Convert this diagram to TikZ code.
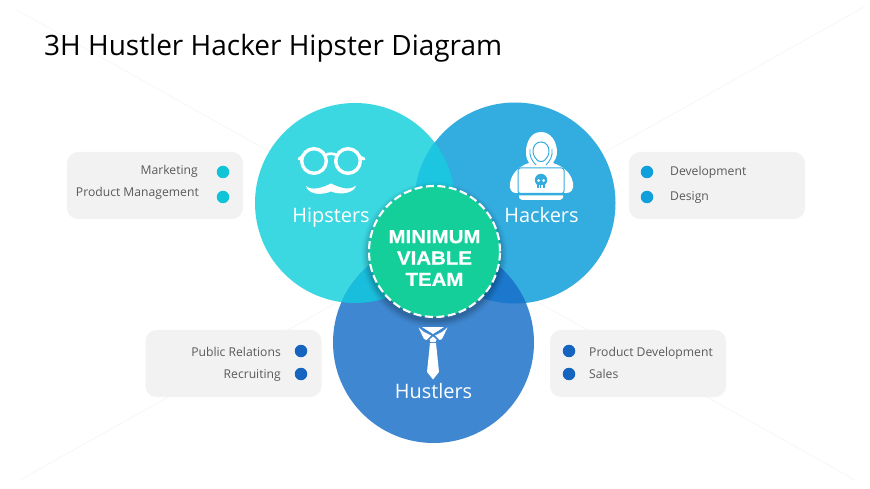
\documentclass[tikz,border=0pt]{standalone}
\usepackage{fontspec}
\setmainfont{Open Sans}
\newfontfamily\labelfont[FakeStretch=1.08,FakeBold=0.6]{Liberation Sans}
\definecolor{cyanc}{HTML}{3BD8E2}
\definecolor{bluec}{HTML}{33ACE0}
\definecolor{navyc}{HTML}{3F87D0}
\definecolor{ovA}{HTML}{1CC6E0}
\definecolor{ovB}{HTML}{1ABEDD}
\definecolor{ovC}{HTML}{1B78CC}
\definecolor{greenc}{HTML}{14CF9A}
\definecolor{cardc}{HTML}{F2F2F2}
\definecolor{txtc}{HTML}{595959}
\definecolor{dotA}{HTML}{10C4D8}
\definecolor{dotB}{HTML}{0FA0DC}
\definecolor{dotC}{HTML}{1565C0}
\tikzset{
 x=1bp,y=-1bp,
 card/.style={fill=cardc,draw=none,rounded corners=11bp,minimum width=176bp,minimum height=67bp,inner sep=0},
 ringlabel/.style={text=white,font=\fontsize{20}{24}\selectfont,inner sep=0,anchor=base},
 itemR/.style={text=txtc,font=\fontsize{12.2}{14}\selectfont,anchor=base east,inner sep=0},
 itemL/.style={text=txtc,font=\fontsize{12.2}{14}\selectfont,anchor=base west,inner sep=0},
 bullet/.style={circle,minimum size=12.5bp,inner sep=0,draw=none},
 big/.style={circle,minimum size=#1,inner sep=0,draw=none},
 icon/.style={fill=white,draw=none},
}
\begin{document}
\begin{tikzpicture}
\useasboundingbox[fill=white] (0,0) rectangle (870,489);
% faint background lines
\draw[black!3,line width=.8bp] (17,10)--(855,480) (864,7)--(20,480);
% title
\node[anchor=base west,inner sep=0,text=black,font=\fontsize{28.1}{32}\selectfont] (title) at (44,56) {3H Hustler Hacker Hipster Diagram};
% cards
\node[card] (c1) at (155,185.5) {};
\node[card] (c2) at (233.5,363.5) {};
\node[card] (c3) at (717,185.5) {};
\node[card] (c4) at (638,363.5) {};
% circles
\node[big=200bp,fill=cyanc] (hip) at (355,203) {};
\node[big=201bp,fill=bluec] (hac) at (515,203) {};
\node[big=201bp,fill=navyc] (hus) at (433.5,342.5) {};
\begin{scope}
\clip (355,203) circle[radius=100];
\fill[ovA] (515,203) circle[radius=100.5];
\fill[ovB] (433.5,342.5) circle[radius=100.5];
\end{scope}
\begin{scope}
\clip (515,203) circle[radius=100.5];
\fill[ovC] (433.5,342.5) circle[radius=100.5];
\end{scope}
% shadow of centre
\foreach \r/\o in {73/.025,71.5/.035,70/.05,68.5/.06,67/.07}
  \fill[black,opacity=\o] (434.5,255) circle[radius=\r];
% centre
\node[big=131bp,fill=greenc,draw=white,line width=2.1bp,dash pattern=on 8bp off 3.5bp] (mvt) at (434.5,251.5) {};
\node[align=center,text=white,inner sep=0,font=\labelfont\bfseries\fontsize{19}{21.5}\selectfont] (mvtl) at (434.5,258) {MINIMUM\\VIABLE\\TEAM};
% ring labels
\node[ringlabel] (l1) at (331,223) {Hipsters};
\node[ringlabel] (l2) at (541.5,223) {Hackers};
\node[ringlabel] (l3) at (433.5,398) {Hustlers};
% glasses
\draw[white,line width=3.4bp] (314,161) circle[radius=12.3] (348,161) circle[radius=12.3];
\draw[white,line width=2.6bp] (325,155.5) .. controls (328,153) and (334,153) .. (337,155.5);
\draw[white,line width=3bp,line cap=round] (302,157)--(299,159) (360,157)--(364,159);
% mustache
\fill[icon] (306,186) .. controls (312,191) and (322,188) .. (331,183.5)
 .. controls (340,188) and (350,191) .. (356,185.5)
 .. controls (355,192) and (342,196) .. (331,191.5)
 .. controls (320,196) and (308,194) .. (306,186) -- cycle;
% hacker
\fill[icon] (541,132) .. controls (531,132) and (526,142) .. (526,152)
 .. controls (526,157) and (527,160) .. (529,163)
 .. controls (520,166) and (512,172) .. (510,183)
 .. controls (509,190) and (512,193) .. (516,193) -- (566,193)
 .. controls (571,193) and (574,190) .. (573,183)
 .. controls (571,172) and (562,166) .. (553,163)
 .. controls (555,160) and (557,157) .. (557,152)
 .. controls (557,142) and (551,132) .. (541,132) -- cycle;
\draw[bluec,line width=1bp] (541,142) .. controls (536,142) and (533,146) .. (533,151)
 .. controls (533,155) and (535,158) .. (537,160) .. controls (539,162) and (543,162) .. (545,160)
 .. controls (547,158) and (549,155) .. (549,151)
 .. controls (549,146) and (546,142) .. (541,142) -- cycle;
\draw[bluec,line width=.9bp] (530,149) .. controls (529,156) and (532,161) .. (536,165)
 (552,149) .. controls (553,156) and (550,161) .. (546,165);
\draw[bluec,line width=1bp,rounded corners=2.5bp] (518,168) rectangle (564,193.5);
\fill[bluec] (515,193.5) rectangle (567,195);
\fill[icon] (519,195.5) -- (563,195.5) -- (563,198) -- (560,200) -- (522,200) -- (519,198) -- cycle;
\fill[bluec] (541,180) circle[radius=6.2];
\fill[bluec] (537,182) rectangle (545,188.5);
\fill[white] (538.5,180.5) circle[radius=1.5] (543.5,180.5) circle[radius=1.5];
\draw[white,line width=.5bp] (539.3,185.5)--(539.3,188.5) (541,185.5)--(541,188.5) (542.7,185.5)--(542.7,188.5);
% tie
\fill[icon] (418.5,327.5) -- (424,332) -- (431,335.5) -- (426.5,340) -- (424,339) -- cycle;
\fill[icon] (447.5,327.5) -- (442,332) -- (435,335.5) -- (439.5,340) -- (442,339) -- cycle;
\fill[icon] (422,327) -- (444,327) -- (433,334) -- cycle;
\fill[icon] (433,336.5) -- (436.5,339.5) -- (435.5,342) -- (430.5,342) -- (429.5,339.5) -- cycle;
\fill[icon] (430,343) -- (436,343) -- (439,372) -- (433,379.5) -- (427,372) -- cycle;
% items
\node[itemR] (a1) at (198,175) {Marketing};
\node[itemR] (a2) at (199,197) {Product Management};
\node[bullet,fill=dotA] (d1) at (223,172) {};
\node[bullet,fill=dotA] (d2) at (223,197) {};
\node[itemR] (b1) at (281,356) {Public Relations};
\node[itemR] (b2) at (281,378) {Recruiting};
\node[bullet,fill=dotC] (d3) at (301,351) {};
\node[bullet,fill=dotC] (d4) at (301,374) {};
\node[itemL] (e1) at (670,176) {Development};
\node[itemL] (e2) at (670,201) {Design};
\node[bullet,fill=dotB] (d5) at (647,172) {};
\node[bullet,fill=dotB] (d6) at (647,197) {};
\node[itemL] (f1) at (589,356) {Product Development};
\node[itemL] (f2) at (589,378) {Sales};
\node[bullet,fill=dotC] (d7) at (569,351) {};
\node[bullet,fill=dotC] (d8) at (569,374) {};
\end{tikzpicture}
\end{document}
